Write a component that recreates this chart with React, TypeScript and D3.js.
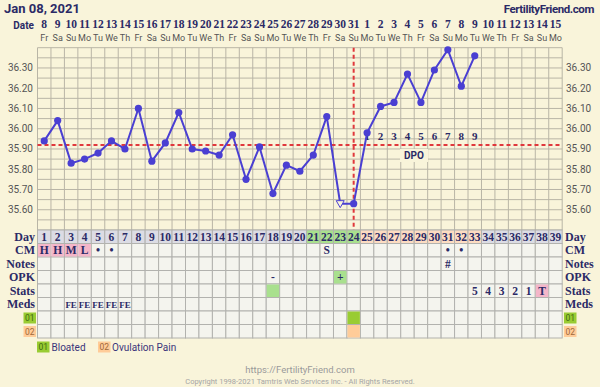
import * as d3 from "d3";

// ---- data ----
const dates = [8, 9, 10, 11, 12, 13, 14, 15, 16, 17, 18, 19, 20, 21, 22, 23, 24, 25, 26, 27, 28, 29, 30, 31,
  1, 2, 3, 4, 5, 6, 7, 8, 9, 10, 11, 12, 13, 14, 15];
const weekdays = ["Fr", "Sa", "Su", "Mo", "Tu", "We", "Th", "Fr", "Sa", "Su", "Mo", "Tu", "We", "Th",
  "Fr", "Sa", "Su", "Mo", "Tu", "We", "Th", "Fr", "Sa", "Su", "Mo", "Tu", "We", "Th",
  "Fr", "Sa", "Su", "Mo", "Tu", "We", "Th", "Fr", "Sa", "Su", "Mo"];
const cycleDays = d3.range(1, 40);
const temps = [35.94, 36.04, 35.83, 35.85, 35.88, 35.94, 35.90, 36.10, 35.84, 35.93, 36.08,
  35.90, 35.89, 35.87, 35.97, 35.75, 35.91, 35.68, 35.82, 35.79, 35.87, 36.06,
  35.63, 35.63, 35.98, 36.11, 36.13, 36.27, 36.13, 36.29, 36.39, 36.21, 36.36];
const discardedDays = [23];
const coverline = 35.92;
const ovulationDay = 24;
const dpoDays = [25, 26, 27, 28, 29, 30, 31, 32, 33];
const yTickLabels = [35.6, 35.7, 35.8, 35.9, 36.0, 36.1, 36.2, 36.3];

const fertileDays = [21, 22, 23, 24];
const lutealDays = [25, 26, 27, 28, 29, 30, 31, 32, 33];

const cmDays = [1, 2, 3, 4, 5, 6, 22, 31, 32];
const cmCodes = ["H", "H", "M", "L", "•", "•", "S", "•", "•"];
const cmPink = [1, 2, 3, 4];
const notesDays = [31];
const notesCodes = ["#"];
const opkDays = [18, 23];
const opkCodes = ["-", "+"];
const opkGreen = [23];
const statsDays = [33, 34, 35, 36, 37, 38];
const statsCodes = ["5", "4", "3", "2", "1", "T"];
const statsPink = [38];
const statsGreen = [18];
const medsDays = [3, 4, 5, 6, 7];
const medsCodes = ["FE", "FE", "FE", "FE", "FE"];
const sym01Days = [24];
const sym02Days = [24];

// ---- styles ----
const BG = "#f9f4da";
const NAVY = "#2b2a66";
const LINE = "#4a3fd2";
const RED = "#e0383c";
const GRID = "#b9b5a6";
const CELL = "#f4f4ee";
const CELL_BORDER = "#b2b2ae";
const SLAB = "'Liberation Serif', serif";
const SANS = "Roboto, 'Noto Sans', sans-serif";

const left = 37.5;
const right = 562.2;
const chartTop = 47.7;
const chartBottom = 230;
const rowH = 13.5;

export default function App() {
  const x = d3.scaleBand<number>().domain(cycleDays).range([left, right]);
  const cw = x.bandwidth();
  const cx = (d: number) => (x(d) ?? 0) + cw / 2;
  const y = d3.scaleLinear().domain([35.5, 36.4]).range([chartBottom, chartTop]);
  const hLines = d3.range(0, 19).map((i) => 35.5 + i * 0.05);

  const line = d3
    .line<number>()
    .x((_, i) => cx(i + 1))
    .y((d) => y(d));

  const rows = ["Day", "CM", "Notes", "OPK", "Stats", "Meds", "01", "02"];
  const rowY = (i: number) => chartBottom + i * rowH;

  const dayFill = (d: number) =>
    fertileDays.includes(d) ? "#a9e08e" : lutealDays.includes(d) ? "#fddcc2" : "#dcdce4";

  const cellText = (row: number, days: number[], codes: string[], key: string) =>
    days.map((d, i) => (
      <text
        key={key + d}
        x={cx(d)}
        y={rowY(row) + rowH / 2 + 4}
        textAnchor="middle"
        fontFamily={SLAB}
        fontWeight="bold"
        fontSize={codes[i] === "FE" ? 9 : 11.5}
        fill={NAVY}
      >
        {codes[i]}
      </text>
    ));

  const cellFill = (row: number, days: number[], fill: string, key: string) =>
    days.map((d) => (
      <rect key={key + d} x={x(d)! + 0.5} y={rowY(row) + 0.5} width={cw - 1} height={rowH - 1} fill={fill} />
    ));

  const symBox = (bx: number, by: number, label: string, fill: string, color: string) => (
    <g>
      <rect x={bx} y={by} width={12.5} height={11} fill={fill} />
      <text x={bx + 6.25} y={by + 8.5} textAnchor="middle" fontFamily={SANS} fontSize={8.5} fill={color}>
        {label}
      </text>
    </g>
  );

  return (
    <svg width={600} height={387} style={{ position: "absolute", left: 0, top: 0 }}>
      <rect width={600} height={387} fill={BG} />

      {/* header */}
      <text x={4} y={13} fontFamily={SANS} fontWeight="bold" fontSize={13} fill={NAVY}>
        Jan 08, 2021
      </text>
      <text x={594} y={13} textAnchor="end" fontFamily={SANS} fontWeight="bold" fontSize={11.5}
        letterSpacing={-0.4} fill={NAVY}>
        FertilityFriend.com
      </text>
      <text x={34} y={29} textAnchor="end" fontFamily={SANS} fontWeight="bold" fontSize={10} fill={NAVY}>
        Date
      </text>
      {cycleDays.map((d, i) => (
        <g key={"date" + d}>
          <text x={cx(d)} y={28} textAnchor="middle" fontFamily={SLAB} fontWeight="bold" fontSize={11.5}
            fill={NAVY}>
            {dates[i]}
          </text>
          <text x={cx(d)} y={41} textAnchor="middle" fontFamily={SANS} fontSize={9} fill="#555">
            {weekdays[i]}
          </text>
        </g>
      ))}

      {/* chart grid */}
      {hLines.map((v, i) => (
        <line key={"h" + i} x1={left} x2={right} y1={y(v)} y2={y(v)} stroke={GRID} strokeWidth={1} />
      ))}
      {d3.range(0, 40).map((i) => (
        <line key={"v" + i} x1={left + i * cw} x2={left + i * cw} y1={chartTop} y2={chartBottom}
          stroke={GRID} strokeWidth={1} />
      ))}
      {yTickLabels.map((v) => (
        <g key={"yl" + v}>
          <text x={33} y={y(v) + 3.5} textAnchor="end" fontFamily={SANS} fontSize={10} fill="#555">
            {v.toFixed(2)}
          </text>
          <text x={566} y={y(v) + 3.5} fontFamily={SANS} fontSize={10} fill="#555">
            {v.toFixed(2)}
          </text>
        </g>
      ))}

      {/* coverline and ovulation */}
      <line x1={left} x2={right} y1={y(coverline)} y2={y(coverline)} stroke={RED} strokeWidth={2}
        strokeDasharray="4,3" />
      <line x1={cx(ovulationDay)} x2={cx(ovulationDay)} y1={chartTop} y2={chartBottom} stroke={RED}
        strokeWidth={2} strokeDasharray="4,3" />

      {/* DPO */}
      {dpoDays.map((d, i) => (
        <text key={"dpo" + d} x={cx(d)} y={y(coverline) - 5} textAnchor="middle" fontFamily={SLAB}
          fontWeight="bold" fontSize={11} fill={NAVY}>
          {i + 1}
        </text>
      ))}
      <rect x={400} y={149} width={28} height={13} fill={BG} />
      <text x={414} y={159} textAnchor="middle" fontFamily={SANS} fontWeight="bold" fontSize={10} fill={NAVY}>
        DPO
      </text>

      {/* temperature line */}
      <path d={line(temps) ?? ""} fill="none" stroke={LINE} strokeWidth={2} />
      {temps.map((t, i) => {
        const d = i + 1;
        if (discardedDays.includes(d)) {
          const px = cx(d);
          const py = y(t);
          return (
            <path key={"pt" + d} d={`M${px - 4},${py - 3}L${px + 4},${py - 3}L${px},${py + 4}Z`}
              fill={BG} stroke={LINE} strokeWidth={1} />
          );
        }
        return <circle key={"pt" + d} cx={cx(d)} cy={y(t)} r={3.6} fill={LINE} />;
      })}

      {/* table */}
      {rows.map((r, ri) =>
        cycleDays.map((d) => (
          <rect key={r + d} x={x(d)} y={rowY(ri)} width={cw} height={rowH}
            fill={ri === 0 ? dayFill(d) : CELL} stroke={CELL_BORDER} strokeWidth={1} />
        ))
      )}
      {cycleDays.map((d) => (
        <text key={"day" + d} x={cx(d)} y={rowY(0) + 10.5} textAnchor="middle" fontFamily={SLAB}
          fontWeight="bold" fontSize={11.5} fill={NAVY}>
          {d}
        </text>
      ))}
      {cellFill(1, cmPink, "#f4b6c9", "cmp")}
      {cellFill(3, opkGreen, "#a9e08e", "opg")}
      {cellFill(4, statsPink, "#f4b6c9", "stp")}
      {cellFill(4, statsGreen, "#a9e08e", "stg")}
      {cellFill(6, sym01Days, "#99cc33", "s1")}
      {cellFill(7, sym02Days, "#ffcc99", "s2")}
      {cellText(1, cmDays, cmCodes, "cm")}
      {cellText(2, notesDays, notesCodes, "nt")}
      {cellText(3, opkDays, opkCodes, "op")}
      {cellText(4, statsDays, statsCodes, "st")}
      {cellText(5, medsDays, medsCodes, "md")}

      {/* row labels */}
      {rows.slice(0, 6).map((r, ri) => (
        <g key={"rl" + r}>
          <text x={35} y={rowY(ri) + 10.5} textAnchor="end" fontFamily={SLAB} fontWeight="bold"
            fontSize={12} fill={NAVY}>
            {r}
          </text>
          <text x={565} y={rowY(ri) + 10.5} fontFamily={SLAB} fontWeight="bold" fontSize={12} fill={NAVY}>
            {r}
          </text>
        </g>
      ))}
      {symBox(23.5, rowY(6) + 1.5, "01", "#99cc33", "#3f6a10")}
      {symBox(23.5, rowY(7) + 1.5, "02", "#ffcc99", "#a0683a")}
      {symBox(564, rowY(6) + 1.5, "01", "#99cc33", "#3f6a10")}
      {symBox(564, rowY(7) + 1.5, "02", "#ffcc99", "#a0683a")}

      {/* legend */}
      {symBox(37, 341.5, "01", "#99cc33", "#3f6a10")}
      <text x={51.5} y={350.5} fontFamily={SANS} fontSize={10} fill="#3b347a">Bloated</text>
      {symBox(98, 341.5, "02", "#ffcc99", "#a0683a")}
      <text x={112} y={350.5} fontFamily={SANS} fontSize={10} fill="#3b347a">Ovulation Pain</text>

      {/* footer */}
      <text x={300} y={373} textAnchor="middle" fontFamily={SANS} fontSize={9.5} fill="#9a9a9a">
        https://FertilityFriend.com
      </text>
      <text x={300} y={384} textAnchor="middle" fontFamily={SANS} fontSize={7.5} fill="#a5a5a5">
        Copyright 1998-2021 Tamtris Web Services Inc. - All Rights Reserved.
      </text>
    </svg>
  );
}
